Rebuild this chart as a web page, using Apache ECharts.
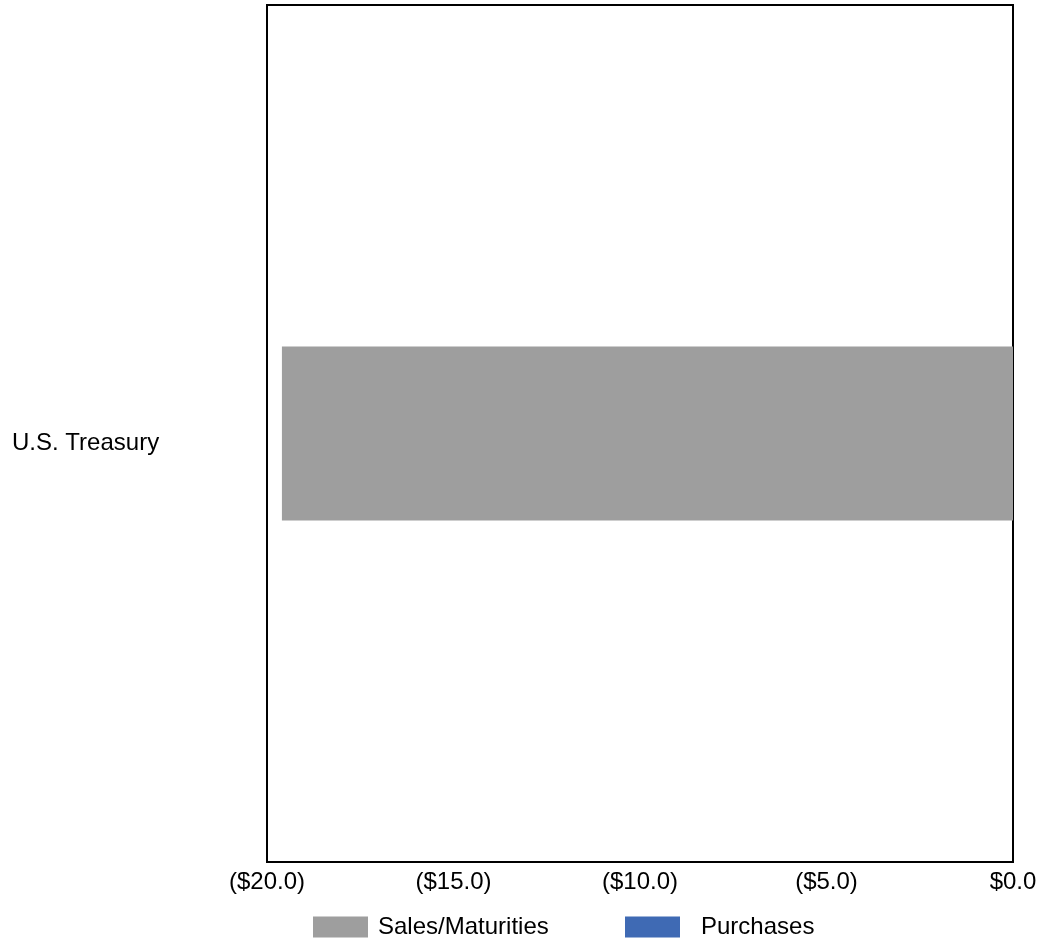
<!DOCTYPE html>
<html>
<head>
<meta charset="utf-8">
<script src="https://cdn.jsdelivr.net/npm/echarts@6/dist/echarts.min.js"></script>
<style>html,body{margin:0;padding:0;background:#fff;}#c{width:1040px;height:939px;}</style>
</head>
<body>
<div id="c"></div>
<script>
const categories = ['U.S. Treasury'];
const salesMaturities = [-19.6];
const purchases = [0];
const seriesNames = ['Sales/Maturities', 'Purchases'];
const xMin = -20, xMax = 0, xInterval = 5;

function fmt(v) {
  const s = '$' + Math.abs(v).toFixed(1);
  return v < 0 ? '(' + s + ')' : s;
}

const chart = echarts.init(document.getElementById('c'));
const font = 'Liberation Sans, Arial, sans-serif';
chart.setOption({
  animation: false,
  textStyle: { fontFamily: font },
  grid: { left: 267, right: 27, top: 5, bottom: 77, show: true, borderColor: '#000', borderWidth: 2, containLabel: false },
  legend: [
    { data: [seriesNames[0]], left: 308, top: 910, itemWidth: 55, itemHeight: 21, icon: 'rect',
      textStyle: { fontSize: 24, color: '#000', fontFamily: font, padding: [0, 0, 0, 5] } },
    { data: [seriesNames[1]], left: 620, top: 910, itemWidth: 55, itemHeight: 21, icon: 'rect',
      textStyle: { fontSize: 24, color: '#000', fontFamily: font, padding: [0, 0, 0, 16] } }
  ],
  xAxis: {
    type: 'value', min: xMin, max: xMax, interval: xInterval,
    axisLine: { show: true, lineStyle: { color: '#000', width: 2 } },
    axisTick: { show: false },
    splitLine: { show: false },
    axisLabel: { formatter: fmt, fontSize: 24, color: '#000', margin: 8, fontFamily: font }
  },
  yAxis: {
    type: 'category', data: categories,
    axisLine: { show: true, lineStyle: { color: '#000', width: 2 } },
    axisTick: { show: false },
    axisLabel: {
      fontSize: 24, color: '#000', align: 'left', margin: 255, fontFamily: font,
      formatter: v => '{a|' + v + '}',
      rich: { a: { fontSize: 24, color: '#000', fontFamily: font, padding: [20, 0, 0, 0] } }
    }
  },
  series: [
    { name: seriesNames[0], type: 'bar', stack: 'a', data: salesMaturities, barWidth: 174,
      itemStyle: { color: '#9e9e9e' } },
    { name: seriesNames[1], type: 'bar', stack: 'a', data: purchases, barWidth: 174,
      itemStyle: { color: '#3f6ab4' } }
  ]
});
</script>
</body>
</html>
